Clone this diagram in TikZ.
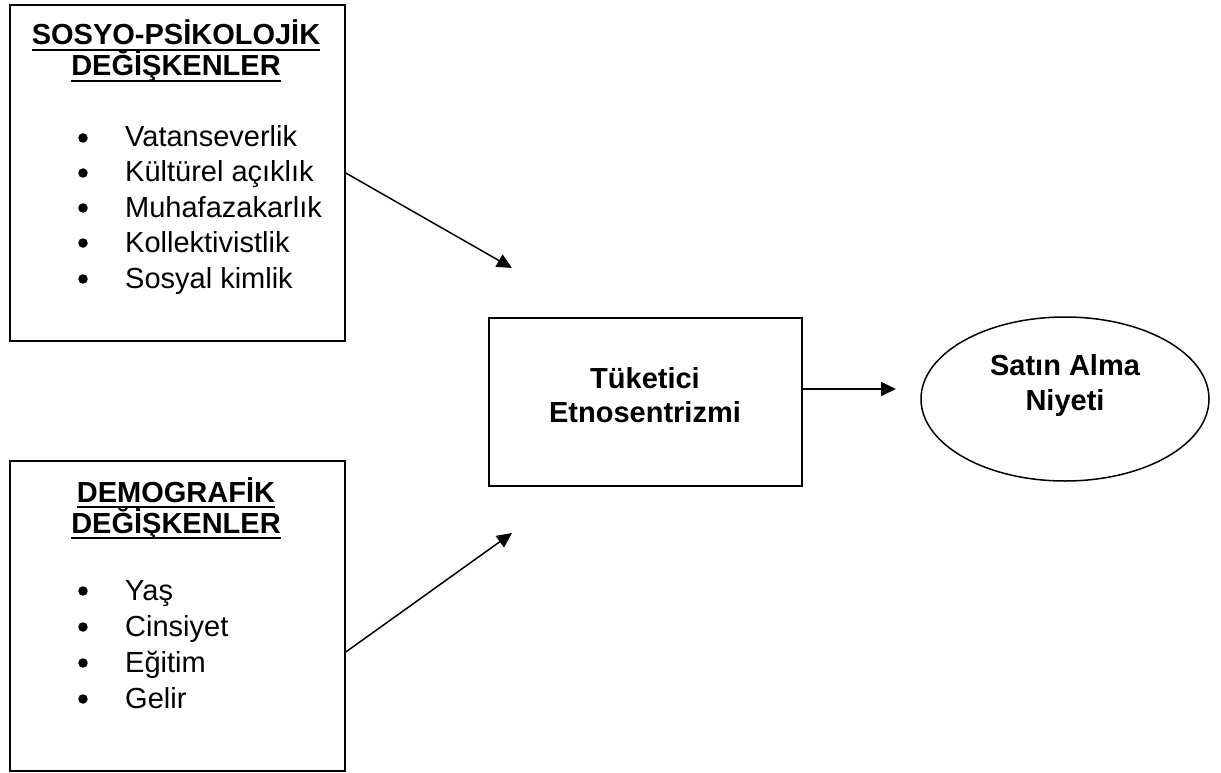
\documentclass[tikz,border=0pt]{standalone}
\usepackage{fontspec}
\setmainfont{Liberation Sans}
\usetikzlibrary{arrows.meta,shapes.geometric}
\begin{document}
\begin{tikzpicture}[x=1pt,y=-1pt,
  box/.style={draw, line width=1.8pt, inner sep=0pt, anchor=north west},
  txt/.style={inner sep=0pt, anchor=base west, font=\fontsize{29}{29}\selectfont},
  ttl/.style={inner sep=0pt, anchor=base, font=\fontsize{29}{29}\selectfont\bfseries},
  bul/.style={circle, fill, inner sep=0pt, minimum size=9.5pt},
  arr/.style={line width=1.5pt, -{Triangle[length=15pt,width=14pt]}},
  uline/.style={line width=2pt}]
\useasboundingbox (0,0) rectangle (1221,773);
% boxes
\node[box, minimum width=335pt, minimum height=336pt] (soc) at (9,4) {};
\node[box, minimum width=335pt, minimum height=310pt] (dem) at (9,460) {};
\node[box, minimum width=313pt, minimum height=168pt] (ce) at (488,317) {};
\node[draw, ellipse, line width=1.5pt, minimum width=288pt, minimum height=164pt] (sa) at (1065,399) {};
% titles top box
\node[ttl] (h1) at (176,45) {SOSYO-PSİKOLOJİK};
\draw[uline] ([yshift=-5pt]h1.base west) -- ([yshift=-5pt]h1.base east);
\node[ttl] (h2) at (176,76) {DEĞİŞKENLER};
\draw[uline] ([yshift=-5pt]h2.base west) -- ([yshift=-5pt]h2.base east);
% items top box
\node[bul] (b1) at (83,138) {}; \node[txt] (i1) at (125,147) {Vatanseverlik};
\node[bul] (b2) at (83,173) {}; \node[txt] (i2) at (125,182) {Kültürel açıklık};
\node[bul] (b3) at (83,208) {}; \node[txt] (i3) at (125,217) {Muhafazakarlık};
\node[bul] (b4) at (83,243) {}; \node[txt] (i4) at (125,252) {Kollektivistlik};
\node[bul] (b5) at (83,279) {}; \node[txt] (i5) at (125,288) {Sosyal kimlik};
% titles bottom box
\node[ttl] (h3) at (176,502) {DEMOGRAFİK};
\draw[uline] ([yshift=-5pt]h3.base west) -- ([yshift=-5pt]h3.base east);
\node[ttl] (h4) at (176,533) {DEĞİŞKENLER};
\draw[uline] ([yshift=-5pt]h4.base west) -- ([yshift=-5pt]h4.base east);
% items bottom box
\node[bul] (c1) at (83,591) {}; \node[txt] (j1) at (125,600) {Yaş};
\node[bul] (c2) at (83,627) {}; \node[txt] (j2) at (125,636) {Cinsiyet};
\node[bul] (c3) at (83,663) {}; \node[txt] (j3) at (125,672) {Eğitim};
\node[bul] (c4) at (83,699) {}; \node[txt] (j4) at (125,708) {Gelir};
% centre texts
\node[ttl] (m1) at (645,388) {Tüketici};
\node[ttl] (m2) at (645,422) {Etnosentrizmi};
\node[ttl] (n1) at (1065,375) {Satın Alma};
\node[ttl] (n2) at (1065,410) {Niyeti};
% arrows
\coordinate (s1) at (344,173); \coordinate (e1) at (512,268);
\draw[arr] (soc.east |- s1) -- (e1);
\coordinate (s2) at (344,652); \coordinate (e2) at (512,533);
\draw[arr] (dem.east |- s2) -- (e2);
\coordinate (e3) at (896,389);
\draw[arr] (ce.east |- e3) -- (e3);
\end{tikzpicture}
\end{document}
